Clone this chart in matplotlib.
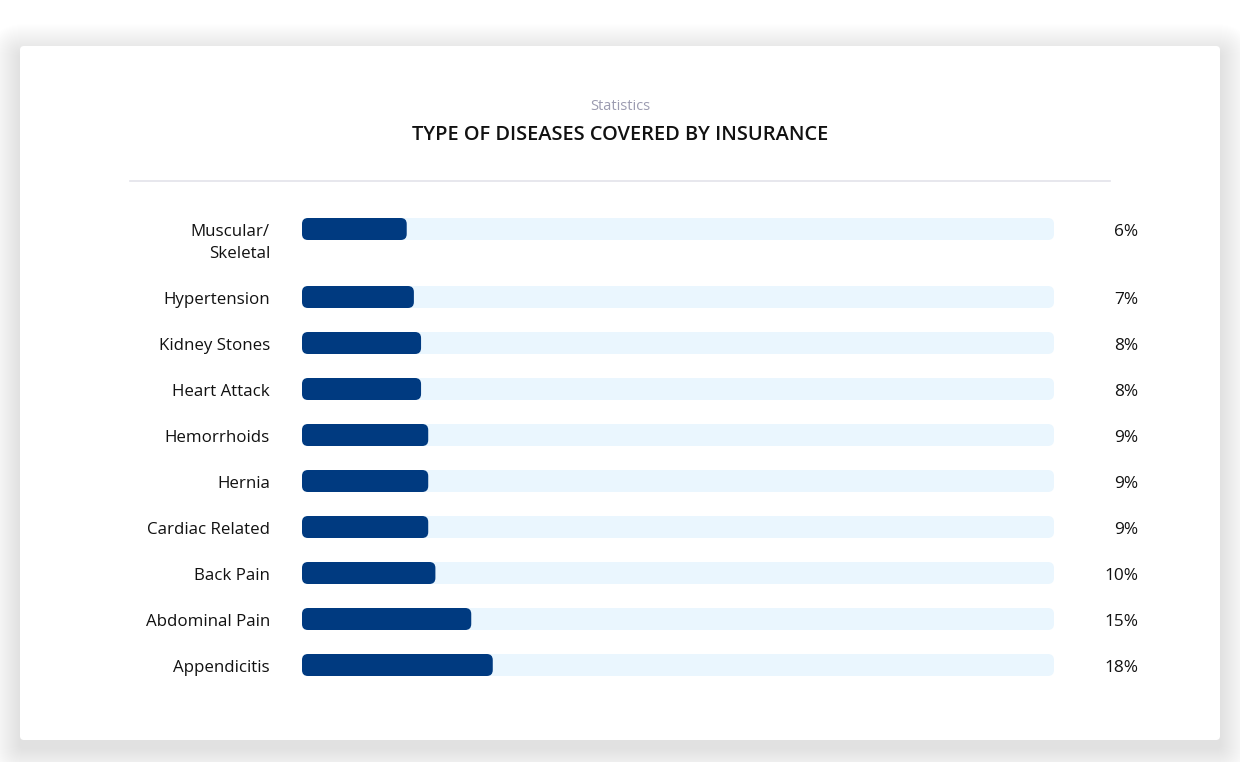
import matplotlib
matplotlib.use("Agg")
import matplotlib.pyplot as plt
from matplotlib.patches import FancyBboxPatch
import numpy as np

plt.rcParams['font.family'] = ['Open Sans', 'DejaVu Sans']

# ---- data ----
categories = ["Muscular/\nSkeletal", "Hypertension", "Kidney Stones", "Heart Attack",
              "Hemorrhoids", "Hernia", "Cardiac Related", "Back Pain",
              "Abdominal Pain", "Appendicitis"]
values = [6, 7, 8, 8, 9, 9, 9, 10, 15, 18]
value_labels = ["6%", "7%", "8%", "8%", "9%", "9%", "9%", "10%", "15%", "18%"]
subtitle = "Statistics"
title = "TYPE OF DISEASES COVERED BY INSURANCE"

W, H, DPI = 1240, 762, 100
fig = plt.figure(figsize=(W / DPI, H / DPI), dpi=DPI)
fig.patch.set_facecolor("white")

# background axes in pixel coordinates
bg = fig.add_axes([0, 0, 1, 1])
bg.set_xlim(0, W)
bg.set_ylim(H, 0)
bg.axis("off")

# soft shadow layers
n = 30
for i in range(n):
    g = n - i
    bg.add_patch(FancyBboxPatch((20 - g, 46 - g + 8), 1200 + 2 * g, 694 + 2 * g,
                                boxstyle=f"round,pad=0,rounding_size={4 + g}",
                                fc="#7d8296", ec="none", alpha=0.005, zorder=1))
# card
bg.add_patch(FancyBboxPatch((20, 46), 1200, 694, boxstyle="round,pad=0,rounding_size=4",
                            fc="white", ec="none", zorder=2))
bg.text(620, 106, subtitle, ha="center", va="center", fontsize=10.5,
        color="#9b9bb0", zorder=3)
bg.text(620, 135, title, ha="center", va="center", fontsize=14.4,
        fontweight="semibold", color="#111111", zorder=3)
bg.plot([130, 1110], [181, 181], color="#e3e3ea", lw=1.2, zorder=3)

# ---- bar chart axes ----
px_left, px_right, px_top, px_bot = 302, 1054, 200, 700
ax = fig.add_axes([px_left / W, 1 - px_bot / H, (px_right - px_left) / W, (px_bot - px_top) / H])
ax.set_zorder(5)
ax.patch.set_alpha(0)
ax.axis("off")

x_per_px = 1 / 7.17
bar_start = -61.7 * x_per_px
ax.set_xlim(bar_start, bar_start + (px_right - px_left) * x_per_px)

row_px = 46.0
first_gap = 68.0 / row_px
ypos = np.array([0.0] + [first_gap + i for i in range(len(categories) - 1)])
y_top = -(229 - px_top) / row_px
y_bot = y_top + (px_bot - px_top) / row_px
ax.set_ylim(y_bot, y_top)

y_per_px = 1 / row_px
bar_h = 22 * y_per_px
aspect = y_per_px / x_per_px
radius = 6 * x_per_px
track_end = ax.get_xlim()[1]
text_dy = 3 * y_per_px

for y, v, lab, vl in zip(ypos, values, categories, value_labels):
    ax.add_patch(FancyBboxPatch((bar_start, y - bar_h / 2), track_end - bar_start, bar_h,
                                boxstyle=f"round,pad=0,rounding_size={radius}",
                                mutation_aspect=aspect, fc="#eaf6fe", ec="none", zorder=1))
    ax.add_patch(FancyBboxPatch((bar_start, y - bar_h / 2), v - bar_start, bar_h,
                                boxstyle=f"round,pad=0,rounding_size={radius}",
                                mutation_aspect=aspect, fc="#003a80", ec="none", zorder=2))
    tr = ax.get_yaxis_transform()
    for k, line in enumerate(lab.split("\n")):
        ax.text(-32 / (px_right - px_left), y + text_dy + k * 22 * y_per_px, line, transform=tr,
                ha="right", va="center", fontsize=12.2, color="#111111", clip_on=False)
    ax.text((1138 - px_left) / (px_right - px_left), y + text_dy, vl, transform=tr,
            ha="right", va="center", fontsize=12.4, color="#111111", clip_on=False)

fig.savefig("out.png", dpi=DPI, facecolor=fig.get_facecolor())
